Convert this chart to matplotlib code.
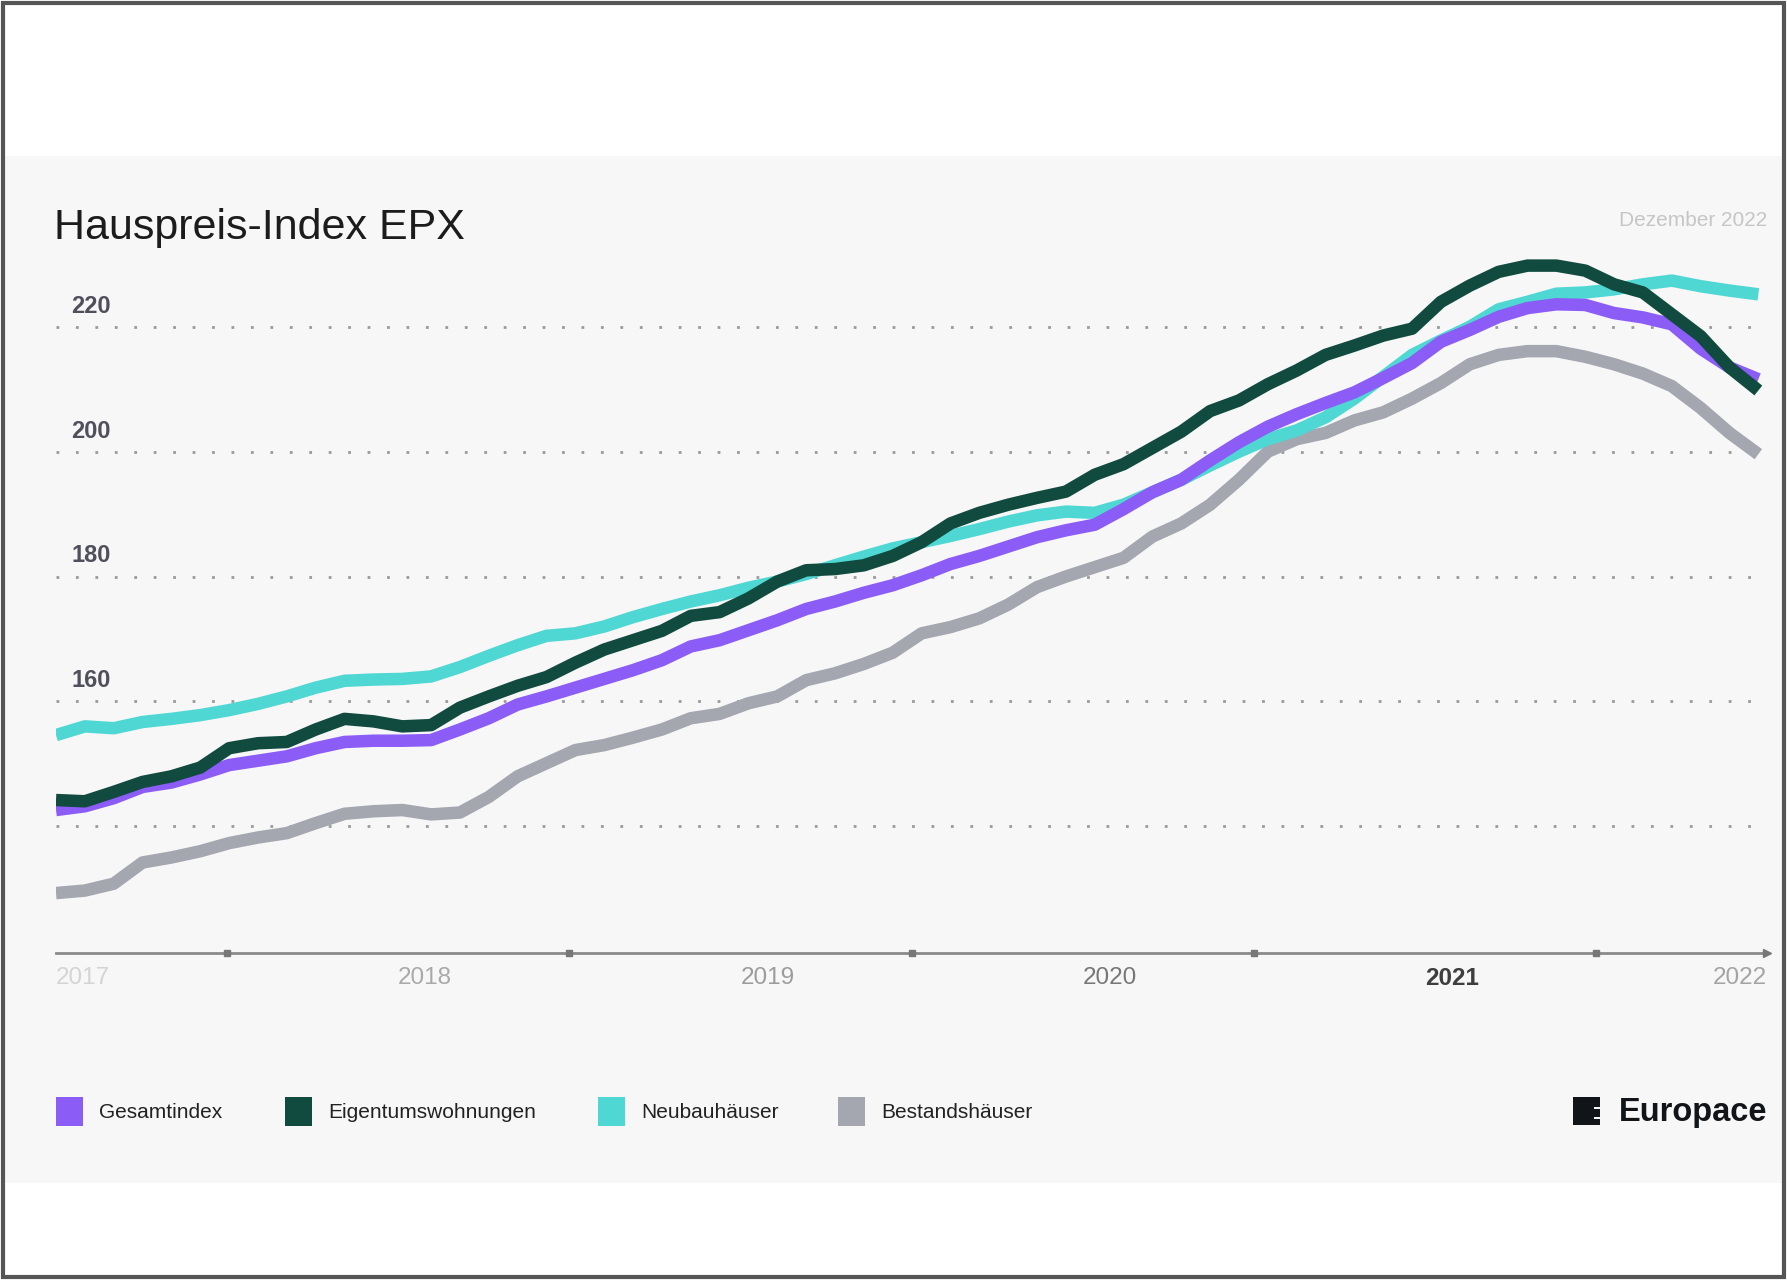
import numpy as np
import matplotlib
matplotlib.use("Agg")
import matplotlib.pyplot as plt
from matplotlib.patches import Rectangle
from matplotlib.transforms import blended_transform_factory

plt.rcParams['font.family'] = ['Liberation Sans', 'DejaVu Sans']

# monthly index values
gesamtindex = [142.6, 143.2, 144.5, 146.3, 147.0, 148.3, 149.8, 150.5, 151.2, 152.5,
               153.5, 153.7, 153.7, 153.8, 155.5, 157.3, 159.5, 160.8, 162.2, 163.6,
               165.0, 166.6, 168.8, 169.8, 171.4, 173.0, 174.8, 176.0, 177.4, 178.6,
               180.2, 182.0, 183.3, 184.8, 186.3, 187.4, 188.3, 190.8, 193.5, 195.5,
               198.6, 201.5, 204.0, 206.0, 207.8, 209.5, 211.8, 214.2, 217.6, 219.5,
               221.6, 223.0, 223.6, 223.5, 222.2, 221.5, 220.4, 216.5, 213.5, 211.6]
eigentumswohnungen = [144.2, 144.0, 145.5, 147.1, 148.0, 149.4, 152.5, 153.3, 153.5, 155.5,
                      157.2, 156.8, 156.0, 156.2, 159.0, 160.8, 162.5, 163.9, 166.2, 168.3,
                      169.8, 171.3, 173.7, 174.3, 176.5, 179.2, 181.0, 181.2, 181.8, 183.3,
                      185.5, 188.5, 190.2, 191.5, 192.6, 193.6, 196.3, 198.0, 200.6, 203.2,
                      206.5, 208.2, 210.8, 213.0, 215.5, 217.0, 218.6, 219.7, 224.0, 226.6,
                      228.8, 229.8, 229.8, 229.0, 226.8, 225.5, 222.0, 218.5, 213.5, 209.8]
neubauhaeuser = [154.6, 156.0, 155.7, 156.7, 157.2, 157.8, 158.6, 159.6, 160.8, 162.2,
                 163.3, 163.5, 163.6, 164.0, 165.5, 167.3, 169.0, 170.5, 170.9, 172.0,
                 173.5, 174.8, 176.0, 177.0, 178.2, 179.2, 180.4, 181.8, 183.2, 184.5,
                 185.5, 186.5, 187.6, 188.8, 189.8, 190.4, 190.2, 191.5, 193.5, 195.5,
                 197.8, 200.0, 202.0, 203.4, 205.5, 208.5, 212.0, 215.5, 217.8, 220.0,
                 222.8, 224.0, 225.3, 225.5, 226.0, 226.8, 227.4, 226.5, 225.8, 225.2]
bestandshaeuser = [129.3, 129.7, 130.8, 134.2, 135.0, 136.0, 137.3, 138.2, 138.9, 140.5,
                   142.0, 142.4, 142.6, 141.9, 142.2, 144.7, 148.0, 150.1, 152.2, 153.0,
                   154.2, 155.5, 157.3, 158.0, 159.7, 160.8, 163.4, 164.5, 166.0, 167.8,
                   170.9, 171.9, 173.3, 175.5, 178.3, 180.0, 181.5, 183.0, 186.4, 188.5,
                   191.5, 195.5, 200.0, 202.0, 203.0, 205.0, 206.3, 208.5, 211.0, 214.0,
                   215.5, 216.1, 216.1, 215.2, 214.0, 212.5, 210.5, 207.0, 203.0, 199.6]

series_names = ['Gesamtindex', 'Eigentumswohnungen', 'Neubauhäuser', 'Bestandshäuser']
series_colors = ['#8b5cf6', '#114b40', '#4fd8d3', '#a4a6b0']
grid_values = [140, 160, 180, 200, 220]
y_labels = [160, 180, 200, 220]
year_labels = ['2017', '2018', '2019', '2020', '2021', '2022']
year_colors = ['#d4d4d4', '#a9a9a9', '#9c9c9c', '#777777', '#3e3e3e', '#a4a4a4']

W, H = 1787, 1280


def fx(px):
    return px / W


def fy(py):
    return 1 - py / H


fig = plt.figure(figsize=(W / 100, H / 100), dpi=100)
fig.patch.set_facecolor('white')

# light panel and outer frame
fig.patches.append(Rectangle((fx(4), fy(1183)), fx(1783) - fx(4), fy(156) - fy(1183),
                             transform=fig.transFigure, facecolor='#f7f7f7',
                             edgecolor='none', zorder=-2))
fig.patches.append(Rectangle((0.0015, 0.002), 0.997, 0.996, transform=fig.transFigure,
                             fill=False, edgecolor='#555555', lw=3, zorder=5))

ax = fig.add_axes([fx(56), fy(953), (1767 - 56) / W, (953 - 250) / H])
ax.set_zorder(2)
ax.set_facecolor('none')
xmax = 59.3
ymin, ymax = 119.7, 232.3
ax.set_xlim(0, xmax)
ax.set_ylim(ymin, ymax)

for v in grid_values:
    ax.axhline(v, color='#9a9a9a', lw=2, linestyle=(0, (1, 6)), zorder=1)

months = np.arange(len(gesamtindex))
data = [gesamtindex, eigentumswohnungen, neubauhaeuser, bestandshaeuser]
for idx in [3, 2, 0, 1]:
    ax.plot(months, data[idx], color=series_colors[idx], lw=9,
            solid_joinstyle='round', solid_capstyle='butt', zorder=3)

for s in ['top', 'right', 'left']:
    ax.spines[s].set_visible(False)
ax.spines['bottom'].set_color('#8a8a8a')
ax.spines['bottom'].set_linewidth(2)
ax.set_xticks([])
ax.set_yticks([])

# timeline: labels split the axis in five equal spans, small marks in between
n_spans = len(year_labels) - 1
mark_pos = [(k + 0.5) / n_spans for k in range(n_spans)]
ax.plot(mark_pos, [0] * n_spans, 's', color='#777777', ms=5, clip_on=False,
        zorder=4, transform=ax.transAxes)
ax.plot([1], [0], '>', color='#777777', ms=6, clip_on=False, zorder=4,
        transform=ax.transAxes)

for k, (lab, c) in enumerate(zip(year_labels, year_colors)):
    last = k == n_spans
    ax.text(k / n_spans, -0.036, lab, transform=ax.transAxes,
            ha='right' if last else 'left', va='center', fontsize=17.5,
            color=c, fontweight='bold' if lab == '2021' else 'normal')

tr_y = blended_transform_factory(ax.transAxes, ax.transData)
for v in y_labels:
    ax.text(0.009, v + 3.3, str(v), transform=tr_y, ha='left', va='center',
            fontsize=17, fontweight='bold', color='#50505c')

# title and date
fig.text(fx(54), fy(228), 'Hauspreis-Index EPX', fontsize=31, color='#1c1c1c',
         va='center', ha='left')
fig.text(fx(1767), fy(221), 'Dezember 2022', fontsize=15, color='#c6c6c6',
         va='center', ha='right')

# legend
legend_sq_x = [56, 285, 598, 838]
for sx, name, c in zip(legend_sq_x, series_names, series_colors):
    fig.patches.append(Rectangle((fx(sx), fy(1126)), 27 / W, 29 / H,
                                 transform=fig.transFigure, facecolor=c,
                                 edgecolor='none', zorder=2))
    fig.text(fx(sx + 43), fy(1112), name, fontsize=15, color='#222222',
             va='center', ha='left')

# Europace logo
fig.patches.append(Rectangle((fx(1573), fy(1125)), 27 / W, 28 / H,
                             transform=fig.transFigure, facecolor='#111418',
                             edgecolor='none', zorder=2))
for ny in [1107, 1117]:
    fig.patches.append(Rectangle((fx(1594), fy(ny + 2)), 6 / W, 2 / H,
                                 transform=fig.transFigure, facecolor='#f7f7f7',
                                 edgecolor='none', zorder=3))
fig.text(fx(1767), fy(1112), 'Europace', fontsize=23.5, fontweight='bold',
         color='#111418', va='center', ha='right')

fig.savefig('out.png', dpi=100, facecolor=fig.get_facecolor())
